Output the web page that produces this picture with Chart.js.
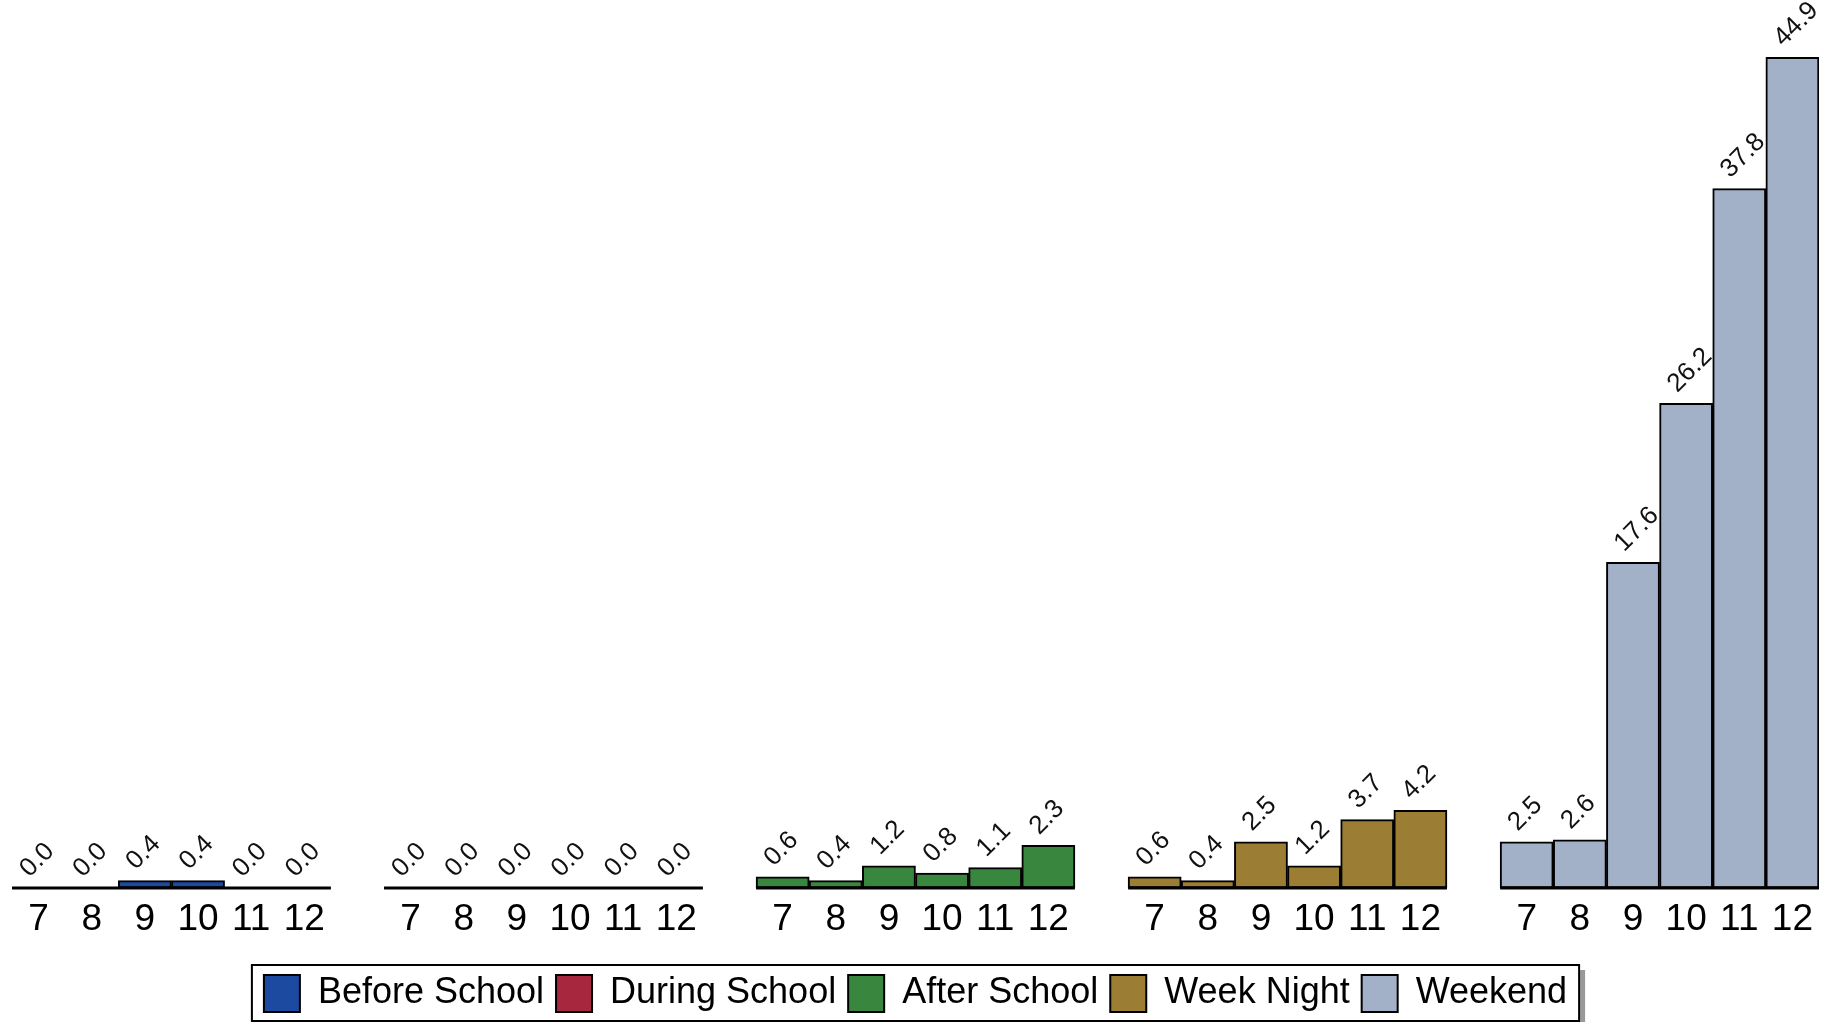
<!DOCTYPE html>
<html>
<head>
<meta charset="utf-8">
<script src="https://cdn.jsdelivr.net/npm/chart.js@4.4.1/dist/chart.umd.min.js"></script>
<style>
  html, body { margin: 0; padding: 0; background: #fff; }
  #wrap { width: 1832px; height: 1022px; }
</style>
</head>
<body>
<div id="wrap"><canvas id="chart"></canvas></div>
<script>
// Grades shown under every group
const grades = ['7', '8', '9', '10', '11', '12'];
const seriesNames = ['Before School', 'During School', 'After School', 'Week Night', 'Weekend'];
const seriesColors = ['#1b4aa0', '#a6273e', '#39863f', '#9b7d34', '#a2b0c8'];

// Values per grade (7..12)
const beforeSchool = [0.0, 0.0, 0.4, 0.4, 0.0, 0.0];
const duringSchool = [0.0, 0.0, 0.0, 0.0, 0.0, 0.0];
const afterSchool = [0.6, 0.4, 1.2, 0.8, 1.1, 2.3];
const weekNight = [0.6, 0.4, 2.5, 1.2, 3.7, 4.2];
const weekend = [2.5, 2.6, 17.6, 26.2, 37.8, 44.9];
const seriesValues = [beforeSchool, duringSchool, afterSchool, weekNight, weekend];

// Category axis: the groups one after another, an empty slot between them
const labels = [];
seriesNames.forEach((_, g) => {
    if (g > 0) labels.push('');
    grades.forEach(gr => labels.push(gr));
});
const groupStart = g => g * (grades.length + 1);

const datasets = seriesNames.map((name, g) => {
    const data = Array(labels.length).fill(null);
    seriesValues[g].forEach((v, i) => { data[groupStart(g) + i] = v; });
    return {
        label: name,
        data,
        backgroundColor: seriesColors[g],
        borderColor: '#000',
        borderWidth: 2,
        borderSkipped: false,
        grouped: false,
        barPercentage: 1,
        categoryPercentage: 1,
    };
});

// Black base line under each group
const baselinePlugin = {
    id: 'baseline',
    afterDatasetsDraw(chart) {
        const { ctx, scales: { x, y } } = chart;
        const half = (x.getPixelForValue(1) - x.getPixelForValue(0)) / 2;
        const y0 = y.getPixelForValue(0);
        ctx.save();
        ctx.strokeStyle = '#000';
        ctx.lineWidth = 3;
        seriesNames.forEach((_, g) => {
            const a = x.getPixelForValue(groupStart(g)) - half;
            const b = x.getPixelForValue(groupStart(g) + grades.length - 1) + half;
            ctx.beginPath();
            ctx.moveTo(a, y0);
            ctx.lineTo(b, y0);
            ctx.stroke();
        });
        ctx.restore();
    }
};

// Rotated value labels above the bars
const valueLabels = {
    id: 'valueLabels',
    afterDatasetsDraw(chart) {
        const { ctx } = chart;
        ctx.save();
        ctx.font = '26px "Liberation Sans", Arial, sans-serif';
        ctx.fillStyle = '#111';
        ctx.textAlign = 'left';
        ctx.textBaseline = 'alphabetic';
        chart.data.datasets.forEach((ds, i) => {
            chart.getDatasetMeta(i).data.forEach((bar, j) => {
                if (ds.data[j] == null) return;
                ctx.save();
                ctx.translate(bar.x - 9, bar.y - 10);
                ctx.rotate(-Math.PI / 4);
                ctx.fillText(ds.data[j].toFixed(1), 0, 0);
                ctx.restore();
            });
        });
        ctx.restore();
    }
};

// Frame with a drop shadow round the legend
const legendFrame = {
    id: 'legendFrame',
    afterDraw(chart) {
        const { ctx } = chart;
        const boxes = chart.legend.legendHitBoxes;
        if (!boxes || !boxes.length) return;
        const first = boxes[0], last = boxes[boxes.length - 1];
        const l = first.left - 12, r = last.left + last.width + 12;
        const t = first.top - 10, b = first.top + first.height + 9;
        ctx.save();
        ctx.fillStyle = '#999';
        ctx.fillRect(r + 1, t + 5, 5, b - t);
        ctx.fillRect(l + 5, b + 1, r - l, 5);
        ctx.strokeStyle = '#000';
        ctx.lineWidth = 2;
        ctx.strokeRect(l, t, r - l, b - t);
        ctx.restore();
    }
};

new Chart(document.getElementById('chart').getContext('2d'), {
    type: 'bar',
    data: { labels, datasets },
    options: {
        responsive: true,
        maintainAspectRatio: false,
        animation: false,
        layout: { padding: { left: 12, right: 13, top: 0, bottom: 0 } },
        plugins: {
            tooltip: { enabled: false },
            legend: {
                position: 'bottom',
                labels: {
                    boxWidth: 36,
                    boxHeight: 37,
                    padding: 12,
                    color: '#000',
                    font: { size: 36, family: '"Liberation Sans", Arial, sans-serif' },
                },
            },
        },
        scales: {
            x: {
                grid: { display: false },
                border: { display: false },
                ticks: {
                    color: '#000',
                    padding: 2,
                    maxRotation: 0,
                    autoSkip: false,
                    font: { size: 37, family: '"Liberation Sans", Arial, sans-serif' },
                },
                afterFit: (scale) => { scale.height = 75; },
            },
            y: { display: false, min: 0, max: 48 },
        },
    },
    plugins: [baselinePlugin, valueLabels, legendFrame],
});
</script>
</body>
</html>
